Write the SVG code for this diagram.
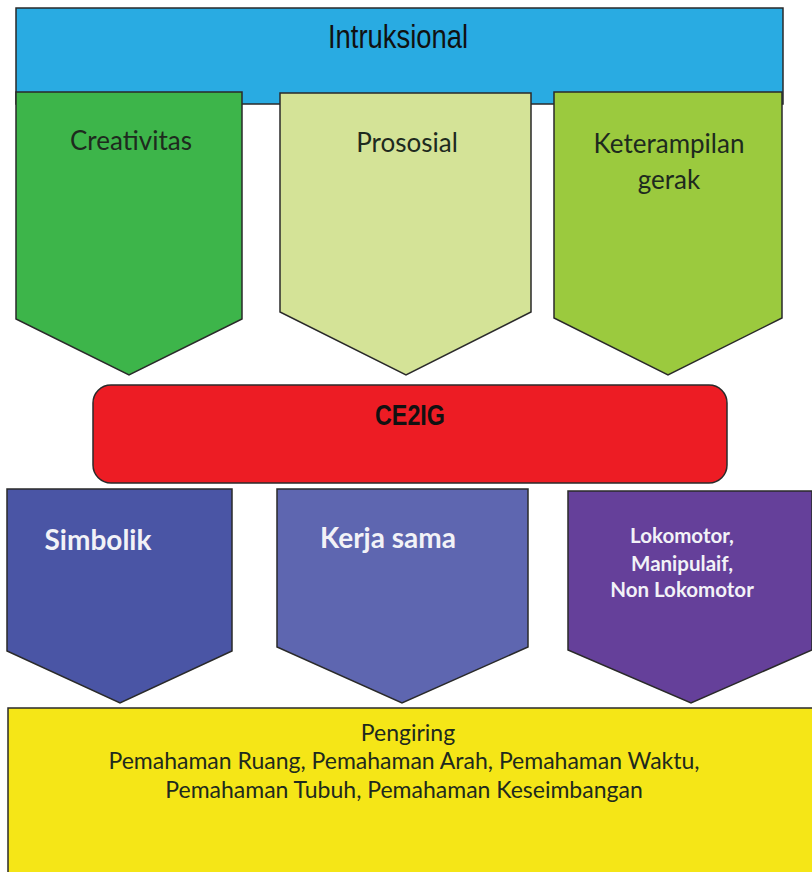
<svg xmlns="http://www.w3.org/2000/svg" width="812" height="872" viewBox="0 0 812 872">
<style>
.shape{stroke:#2a2a2a;stroke-width:1.5;stroke-linejoin:miter}
.narrow{font-family:"Liberation Sans Narrow","Liberation Sans",Arial,sans-serif;fill:#111;text-anchor:middle}
.cal{font-family:Lato,"Open Sans",sans-serif;fill:#1e2a1e;text-anchor:middle}
.calw{font-family:Lato,"Open Sans",sans-serif;fill:#f2f2f7;font-weight:bold;text-anchor:middle}
</style>
<rect width="812" height="872" fill="#ffffff"/>
<g id="intruksional">
<rect class="shape" x="16" y="8" width="767" height="96" fill="#29abe2"/>
<text class="narrow" x="398" y="48" font-size="34" textLength="140" lengthAdjust="spacingAndGlyphs">Intruksional</text>
</g>
<g id="creativitas">
<polygon class="shape" points="16,92 242,92 242,319 129,375 16,319" fill="#3db54a"/>
<text class="cal" x="131" y="150" font-size="26">Creativitas</text>
</g>
<g id="prososial">
<polygon class="shape" points="280,93 531,93 531,312 406,375 280,312" fill="#d4e397"/>
<text class="cal" x="407" y="152" font-size="26">Prososial</text>
</g>
<g id="keterampilan">
<polygon class="shape" points="554,92 782,92 782,318 668,375 554,318" fill="#9bca3e"/>
<text class="cal" x="669" y="153" font-size="26">Keterampilan</text>
<text class="cal" x="669" y="189" font-size="26">gerak</text>
</g>
<g id="ce2ig">
<rect class="shape" x="93" y="385" width="634" height="98" rx="18" ry="18" fill="#ed1c24"/>
<text class="narrow" x="410" y="425" font-size="29" font-weight="bold" textLength="70" lengthAdjust="spacingAndGlyphs">CE2IG</text>
</g>
<g id="simbolik">
<polygon class="shape" points="7,489 232,489 232,651 120,703 7,651" fill="#4a55a5"/>
<text class="calw" x="98" y="550" font-size="28">Simbolik</text>
</g>
<g id="kerjasama">
<polygon class="shape" points="277,489 528,489 528,647 402,703 277,647" fill="#5e66b0"/>
<text class="calw" x="388" y="548" font-size="28">Kerja sama</text>
</g>
<g id="lokomotor">
<polygon class="shape" points="568,491 812,491 812,650 691,703 568,650" fill="#65409a"/>
<text class="calw" x="682" y="543" font-size="20.5">Lokomotor,</text>
<text class="calw" x="682" y="571" font-size="20.5">Manipulaif,</text>
<text class="calw" x="682" y="597" font-size="20.5">Non Lokomotor</text>
</g>
<g id="pengiring">
<rect class="shape" x="8" y="708" width="806" height="170" fill="#f5e617"/>
<text class="cal" x="408" y="741" font-size="23">Pengiring</text>
<text class="cal" x="404" y="769" font-size="23">Pemahaman Ruang, Pemahaman Arah, Pemahaman Waktu,</text>
<text class="cal" x="404" y="798" font-size="23">Pemahaman Tubuh, Pemahaman Keseimbangan</text>
</g>
<g id="connectors"></g>
</svg>
